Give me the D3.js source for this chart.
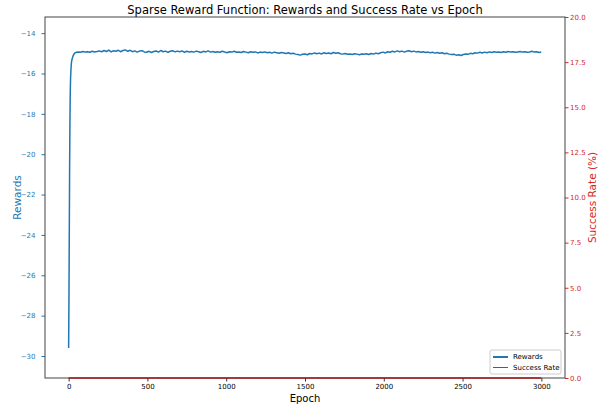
<!DOCTYPE html>
<html>
<head>
<meta charset="utf-8">
<script src="https://cdn.jsdelivr.net/npm/d3@7"></script>
<style>
  body { margin: 0; background: #fff; }
  svg { font-family: "DejaVu Sans", sans-serif; }
</style>
</head>
<body>
<script>
// size of the page
var width = 605;
var height = 407;

// plot box (pixels) - note: "top" is taken by window.top, so use plot* names
var plotLeft = 45, plotRight = 565, plotTop = 17, plotBottom = 378;

// ramp at the start, explicit epochs
var rampEpochs = [0, 2, 4, 6, 8, 10, 12, 15, 18, 22, 27, 33, 40];
var rampRewards = [-29.6, -27.2, -24.1, -21.0, -18.6, -17.1, -16.3, -15.75, -15.45, -15.28, -15.15, -15.05, -14.98];

// plateau, one value every 15 epochs from 45 to 2985
var plateauStart = 45, plateauStep = 15;
var plateauRewards = [
  -14.96,-14.93,-14.95,-14.91,-14.94,-14.92,-14.95,-14.90,-14.93,-14.91,
  -14.88,-14.92,-14.86,-14.91,-14.84,-14.93,-14.87,-14.90,-14.85,-14.92,
  -14.86,-14.83,-14.90,-14.85,-14.92,-14.88,-14.94,-14.89,-14.87,-14.93,
  -14.95,-14.90,-14.96,-14.91,-14.88,-14.94,-14.86,-14.92,-14.89,-14.95,
  -14.90,-14.87,-14.93,-14.89,-14.92,-14.88,-14.95,-14.90,-14.93,-14.91,
  -14.94,-14.89,-14.92,-14.96,-14.90,-14.93,-14.88,-14.94,-14.91,-14.95,
  -14.92,-14.95,-14.90,-14.93,-14.97,-14.92,-14.94,-14.90,-14.95,-14.93,
  -14.96,-14.91,-14.94,-14.97,-14.92,-14.95,-14.93,-14.98,-14.94,-14.96,
  -14.93,-14.97,-14.95,-14.99,-14.94,-14.97,-15.00,-14.96,-14.98,-15.01,
  -14.97,-15.02,-15.00,-15.04,-15.06,-15.09,-15.05,-15.03,-15.07,-15.01,
  -15.03,-14.98,-15.02,-14.99,-15.03,-14.97,-15.01,-14.98,-15.02,-14.96,
  -15.00,-14.97,-15.02,-15.04,-15.01,-15.05,-15.03,-15.06,-15.02,-15.04,
  -15.07,-15.03,-15.05,-15.02,-15.06,-15.01,-15.04,-14.99,-15.02,-14.97,
  -14.94,-14.98,-14.92,-14.95,-14.90,-14.93,-14.88,-14.92,-14.89,-14.94,
  -14.90,-14.87,-14.92,-14.89,-14.93,-14.91,-14.95,-14.92,-14.96,-14.94,
  -14.97,-14.95,-14.99,-14.96,-15.00,-14.97,-15.02,-15.00,-15.04,-15.06,
  -15.05,-15.09,-15.07,-15.11,-15.06,-15.03,-15.05,-15.00,-15.02,-14.97,
  -14.99,-14.95,-14.98,-14.94,-14.97,-14.93,-14.96,-14.92,-14.95,-14.93,
  -14.96,-14.92,-14.95,-14.91,-14.94,-14.92,-14.95,-14.93,-14.91,-14.94,
  -14.92,-14.95,-14.93,-14.90,-14.94,-14.92,-14.96
];
var lastEpoch = 2999, lastReward = -14.93;

// success rate stays at zero the whole run
var successEpochs = [0, 2999];
var successRates = [0, 0];

// tick labels
var xTicks = [0, 500, 1000, 1500, 2000, 2500, 3000];
var rewardTicks = [-30, -28, -26, -24, -22, -20, -18, -16, -14];
var rateTicks = [0, 2.5, 5, 7.5, 10, 12.5, 15, 17.5, 20];

var blue = "#1f77b4";
var red = "#d62728";

// build the rewards table
var rewards = [];
rampEpochs.forEach(function(e, i) { rewards.push([e, rampRewards[i]]); });
plateauRewards.forEach(function(v, i) { rewards.push([plateauStart + i * plateauStep, v]); });
rewards.push([lastEpoch, lastReward]);

var success = successEpochs.map(function(e, i) { return [e, successRates[i]]; });

var x = d3.scaleLinear().domain([-150, 3150]).range([plotLeft, plotRight]);
var yL = d3.scaleLinear().domain([-31.09, -13.2]).range([plotBottom, plotTop]);
var yR = d3.scaleLinear().domain([0, 20]).range([plotBottom, plotTop]);

var svg = d3.select("body").append("svg")
    .attr("width", width)
    .attr("height", height);

// rewards line
var lineL = d3.line().x(function(d) { return x(d[0]); }).y(function(d) { return yL(d[1]); });
svg.append("path")
   .datum(rewards)
   .attr("d", lineL)
   .attr("fill", "none")
   .attr("stroke", blue)
   .attr("stroke-width", 1.5)
   .attr("stroke-linejoin", "round");

// axes
var xAxis = svg.append("g")
   .attr("transform", "translate(0," + plotBottom + ")")
   .call(d3.axisBottom(x).tickValues(xTicks).tickSize(3.5).tickPadding(3).tickFormat(d3.format("d")));

var leftAxis = svg.append("g")
   .attr("transform", "translate(" + plotLeft + ",0)")
   .call(d3.axisLeft(yL).tickValues(rewardTicks).tickSize(3.5).tickPadding(6).tickFormat(d3.format("d")));

var rightAxis = svg.append("g")
   .attr("transform", "translate(" + plotRight + ",0)")
   .call(d3.axisRight(yR).tickValues(rateTicks).tickSize(3.5).tickPadding(1.5).tickFormat(d3.format(".1f")));

[xAxis, leftAxis, rightAxis].forEach(function(g) {
    g.select(".domain").remove();
    g.selectAll("text").attr("font-size", "7px").attr("font-family", "DejaVu Sans, sans-serif");
});
xAxis.selectAll("line").attr("stroke", "#333");
leftAxis.selectAll("line").attr("stroke", blue);
leftAxis.selectAll("text").attr("fill", blue);
rightAxis.selectAll("line").attr("stroke", red);
rightAxis.selectAll("text").attr("fill", red);

// frame
svg.append("rect")
   .attr("x", plotLeft)
   .attr("y", plotTop)
   .attr("width", plotRight - plotLeft)
   .attr("height", plotBottom - plotTop)
   .attr("fill", "none")
   .attr("stroke", "#444")
   .attr("stroke-width", 1);

// success rate line (sits on the bottom spine)
var lineR = d3.line().x(function(d) { return x(d[0]); }).y(function(d) { return yR(d[1]); });
svg.append("path")
   .datum(success)
   .attr("d", lineR)
   .attr("fill", "none")
   .attr("stroke", "#a11a1a")
   .attr("stroke-width", 1.5);

// title and labels
svg.append("text")
   .attr("x", (plotLeft + plotRight) / 2)
   .attr("y", 14)
   .attr("text-anchor", "middle")
   .attr("font-size", "11.5px")
   .attr("fill", "#000")
   .text("Sparse Reward Function: Rewards and Success Rate vs Epoch");

svg.append("text")
   .attr("x", (plotLeft + plotRight) / 2)
   .attr("y", 402)
   .attr("text-anchor", "middle")
   .attr("font-size", "10px")
   .text("Epoch");

svg.append("text")
   .attr("transform", "translate(21," + ((plotTop + plotBottom) / 2) + ") rotate(-90)")
   .attr("text-anchor", "middle")
   .attr("font-size", "10.5px")
   .attr("fill", blue)
   .text("Rewards");

svg.append("text")
   .attr("transform", "translate(596," + ((plotTop + plotBottom) / 2) + ") rotate(-90)")
   .attr("text-anchor", "middle")
   .attr("font-size", "10.5px")
   .attr("fill", red)
   .text("Success Rate (%)");

// legend
var legend = svg.append("g").attr("transform", "translate(490,350)");
legend.append("rect")
   .attr("width", 71)
   .attr("height", 24)
   .attr("rx", 2)
   .attr("fill", "#fff")
   .attr("fill-opacity", 0.8)
   .attr("stroke", "#ccc");

var legendItems = [["Rewards", blue, 2], ["Success Rate", red, 1]];
legendItems.forEach(function(item, i) {
    legend.append("line")
       .attr("x1", 3).attr("x2", 18)
       .attr("y1", 7 + i * 10.5).attr("y2", 7 + i * 10.5)
       .attr("stroke", item[1])
       .attr("stroke-width", item[2]);
    legend.append("text")
       .attr("x", 23)
       .attr("y", 7 + i * 10.5)
       .attr("dy", "0.35em")
       .attr("font-size", "7px")
       .text(item[0]);
});
</script>
</body>
</html>
